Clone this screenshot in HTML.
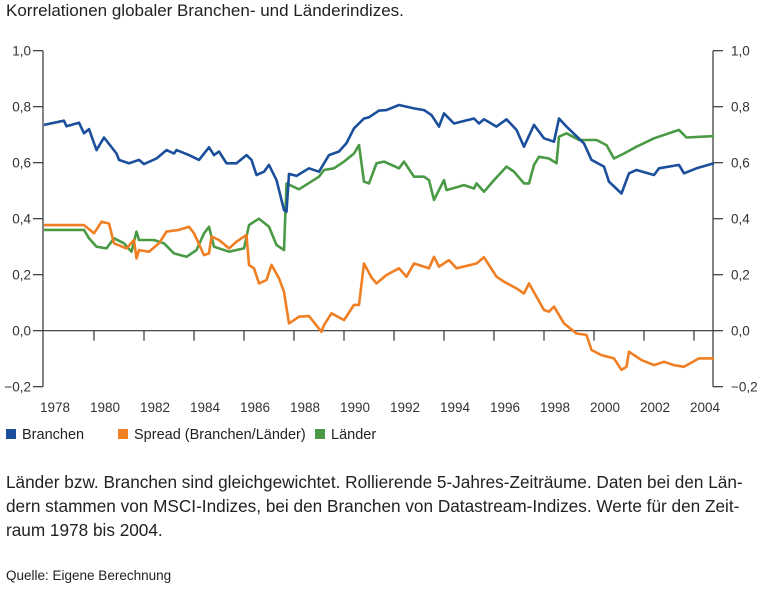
<!DOCTYPE html>
<html><head><meta charset="utf-8">
<style>
body{margin:0;background:#fff;font-family:"Liberation Sans",sans-serif;color:#222;}
#wrap{position:relative;width:770px;height:591px;overflow:hidden;}
.t{position:absolute;white-space:nowrap;}
</style></head><body>
<div id="wrap">
<div class="t" style="left:6px;top:1px;font-size:17px;">Korrelationen globaler Branchen- und Länderindizes.</div>
<svg id="chart" width="770" height="460" style="position:absolute;left:0;top:0" font-family="Liberation Sans, sans-serif"></svg>
<div class="t" style="left:6px;top:470px;font-size:17.2px;line-height:24px;">Länder bzw. Branchen sind gleichgewichtet. Rollierende 5-Jahres-Zeiträume. Daten bei den Län-<br>dern stammen von MSCI-Indizes, bei den Branchen von Datastream-Indizes. Werte für den Zeit-<br>raum 1978 bis 2004.</div>
<div class="t" style="left:6px;top:568px;font-size:13.5px;">Quelle: Eigene Berechnung</div>
</div>
<script>
const yTicks=[1.0,0.8,0.6,0.4,0.2,0.0,-0.2];
const yTickLabels=["1,0","0,8","0,6","0,4","0,2","0,0","\u22120,2"];
const xTicks=[1980,1982,1984,1986,1988,1990,1992,1994,1996,1998,2000,2002,2004];
const xLabels=[1978,1980,1982,1984,1986,1988,1990,1992,1994,1996,1998,2000,2002,2004];
const seriesNames=["Branchen","Spread (Branchen/Länder)","Länder"];
const branchenYears=[1978.0,1978.8,1978.9,1979.4,1979.6,1979.8,1980.1,1980.4,1980.9,1981.0,1981.4,1981.8,1982.0,1982.5,1982.9,1983.2,1983.3,1983.8,1984.2,1984.6,1984.8,1985.0,1985.3,1985.7,1986.1,1986.3,1986.5,1986.8,1987.0,1987.3,1987.6,1987.7,1987.8,1988.1,1988.6,1989.0,1989.4,1989.8,1990.1,1990.4,1990.8,1991.0,1991.4,1991.7,1992.2,1992.8,1993.2,1993.5,1993.8,1994.0,1994.4,1995.2,1995.4,1995.6,1996.1,1996.5,1996.9,1997.2,1997.6,1998.0,1998.4,1998.6,1998.9,1999.6,1999.9,2000.4,2000.6,2001.1,2001.4,2001.7,2002.4,2002.6,2003.4,2003.6,2004.1,2004.8];
const branchenValues=[0.735,0.75,0.73,0.743,0.705,0.72,0.645,0.69,0.633,0.61,0.598,0.61,0.595,0.615,0.645,0.633,0.645,0.627,0.61,0.655,0.627,0.64,0.598,0.598,0.627,0.61,0.556,0.568,0.592,0.538,0.431,0.425,0.56,0.553,0.58,0.568,0.627,0.64,0.67,0.723,0.758,0.762,0.786,0.788,0.806,0.794,0.788,0.77,0.729,0.776,0.74,0.758,0.74,0.755,0.729,0.755,0.717,0.657,0.735,0.687,0.675,0.758,0.729,0.669,0.61,0.586,0.532,0.49,0.562,0.574,0.556,0.58,0.592,0.562,0.58,0.598];
const spreadYears=[1978.0,1979.6,1980.0,1980.3,1980.6,1980.8,1981.3,1981.6,1981.7,1981.8,1982.2,1982.6,1982.9,1983.4,1983.8,1984.0,1984.4,1984.6,1984.7,1985.0,1985.4,1985.7,1986.1,1986.2,1986.4,1986.6,1986.9,1987.1,1987.4,1987.6,1987.8,1988.2,1988.6,1989.1,1989.2,1989.5,1990.0,1990.4,1990.6,1990.8,1991.1,1991.3,1991.7,1992.2,1992.5,1992.8,1993.4,1993.6,1993.8,1994.2,1994.5,1995.3,1995.6,1996.1,1996.4,1996.9,1997.2,1997.4,1997.7,1998.0,1998.2,1998.4,1998.8,1999.3,1999.7,1999.9,2000.3,2000.8,2001.1,2001.3,2001.4,2001.9,2002.4,2002.8,2003.2,2003.6,2004.2,2004.8];
const spreadValues=[0.377,0.377,0.348,0.389,0.383,0.312,0.294,0.324,0.258,0.288,0.282,0.312,0.354,0.36,0.371,0.348,0.27,0.276,0.336,0.324,0.294,0.318,0.342,0.235,0.223,0.169,0.181,0.235,0.187,0.139,0.026,0.05,0.052,-0.004,0.02,0.062,0.038,0.092,0.092,0.24,0.19,0.169,0.199,0.223,0.193,0.24,0.223,0.264,0.229,0.252,0.223,0.24,0.262,0.193,0.175,0.151,0.133,0.169,0.121,0.074,0.068,0.086,0.026,-0.01,-0.015,-0.069,-0.087,-0.099,-0.14,-0.129,-0.075,-0.105,-0.123,-0.111,-0.123,-0.129,-0.099,-0.099];
const laenderYears=[1978.0,1979.6,1979.8,1980.1,1980.5,1980.8,1981.2,1981.5,1981.7,1981.8,1982.4,1982.8,1983.2,1983.7,1984.1,1984.4,1984.6,1984.8,1985.4,1986.0,1986.2,1986.4,1986.6,1987.0,1987.3,1987.6,1987.7,1988.2,1989.0,1989.2,1989.6,1990.0,1990.4,1990.6,1990.8,1991.0,1991.3,1991.6,1992.2,1992.4,1992.8,1993.2,1993.4,1993.6,1994.0,1994.1,1994.8,1995.2,1995.3,1995.6,1996.0,1996.5,1996.8,1997.2,1997.4,1997.6,1997.8,1998.2,1998.5,1998.6,1998.9,1999.4,2000.1,2000.5,2000.8,2001.2,2001.7,2002.4,2003.4,2003.7,2004.8];
const laenderValues=[0.36,0.36,0.33,0.30,0.294,0.33,0.312,0.282,0.354,0.324,0.324,0.312,0.276,0.264,0.288,0.348,0.371,0.30,0.282,0.294,0.377,0.389,0.40,0.371,0.306,0.288,0.526,0.505,0.55,0.574,0.58,0.604,0.633,0.663,0.532,0.526,0.598,0.604,0.58,0.604,0.55,0.55,0.538,0.467,0.538,0.502,0.52,0.508,0.526,0.496,0.538,0.586,0.568,0.526,0.526,0.592,0.621,0.615,0.598,0.693,0.705,0.681,0.681,0.663,0.615,0.633,0.657,0.687,0.717,0.69,0.695];

const NS="http://www.w3.org/2000/svg";
const svg=document.getElementById('chart');
const X0=43,X1=713;
function xs(yr){return 44+(yr-1978)*25;}
function ys(v){return 330.7-v*280;}
function mk(tag,attrs){const e=document.createElementNS(NS,tag);for(const k in attrs)e.setAttribute(k,attrs[k]);svg.appendChild(e);return e;}
const AX="#333";
let e;
e=mk('line',{x1:X0,y1:ys(1),x2:X0,y2:ys(-0.2),stroke:AX,'stroke-width':1.2});


e=mk('line',{x1:X1,y1:ys(1),x2:X1,y2:ys(-0.2),stroke:AX,'stroke-width':1.2});


e=mk('line',{x1:X0,y1:ys(0),x2:X1,y2:ys(0),stroke:AX,'stroke-width':1.2});


yTicks.forEach((v,i)=>{
 const y=ys(v);
 let t=mk('line',{x1:X0-10,y1:y,x2:X0,y2:y,stroke:AX,'stroke-width':1.2});
 
 
 t=mk('line',{x1:X1,y1:y,x2:X1+10,y2:y,stroke:AX,'stroke-width':1.2});
 
 
 let l=mk('text',{x:31,y:y+5,'text-anchor':'end','font-size':13.5,fill:'#333'});
 l.textContent=yTickLabels[i];
 
 
 l=mk('text',{x:731,y:y+5,'text-anchor':'start','font-size':13.5,fill:'#333'});
 l.textContent=yTickLabels[i];
 
 
});
xTicks.forEach(yr=>{
 const t=mk('line',{x1:xs(yr),y1:ys(0),x2:xs(yr),y2:ys(0)+10,stroke:AX,'stroke-width':1.2});
 
 
});
xLabels.forEach(yr=>{
 const l=mk('text',{x:xs(yr)+11,y:412,'text-anchor':'middle','font-size':13.5,fill:'#333'});
 l.textContent=yr;
 
 
});
function line(ys_,vs,color,name){
 const d=ys_.map((yr,i)=>(i?'L':'M')+xs(yr).toFixed(1)+' '+ys(vs[i]).toFixed(1)).join(' ');
 const p=mk('path',{d:d,fill:'none',stroke:color,'stroke-width':2.6,'stroke-linejoin':'round'});
 
 
}
line(laenderYears,laenderValues,'#4a9a45','laender-line');
line(spreadYears,spreadValues,'#f07f23','spread-line');
line(branchenYears,branchenValues,'#1b4f9c','branchen-line');
const legColors=['#1b4f9c','#f07f23','#4a9a45'];
const legX=[6,118,315];
seriesNames.forEach((n,i)=>{
 const r=mk('rect',{x:legX[i],y:429,width:10,height:10,fill:legColors[i]});
 
 
 const t=mk('text',{x:legX[i]+16,y:439,'font-size':14.5,fill:'#222'});
 t.textContent=n;
 
 
});
</script>
</body></html>
